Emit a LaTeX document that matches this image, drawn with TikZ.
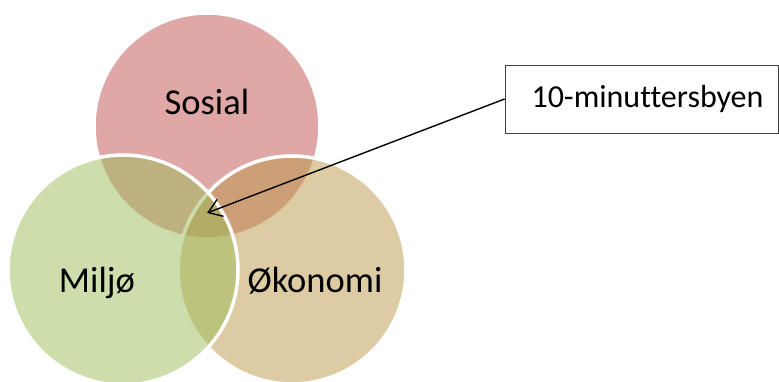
\documentclass[tikz,border=0pt]{standalone}
\usepackage{fontspec}
\setmainfont{Carlito}[Ligatures=NoCommon]
\usetikzlibrary{arrows.meta}
\definecolor{sosialc}{RGB}{192,80,77}
\definecolor{miljoc}{RGB}{155,187,89}
\definecolor{okoc}{RGB}{187,151,73}
\definecolor{boxline}{RGB}{64,64,64}
\tikzset{
  venn/.style={circle, draw=white, line width=3.5pt, fill opacity=0.5, minimum size=#1, inner sep=0pt},
  biglabel/.style={font=\fontsize{36.5}{40}\selectfont, anchor=base, inner sep=0pt},
  callout/.style={draw=boxline, line width=0.8pt, minimum width=273pt, minimum height=68pt, inner sep=0pt, font=\fontsize{32}{36}\selectfont},
}
\begin{document}
\begin{tikzpicture}[x=1pt,y=-1pt]
\useasboundingbox (0,0) rectangle (779,382);
\clip (0,0) rectangle (779,382);
\node[venn=226pt, fill=sosialc] (sos) at (207,126) {};
\node[venn=228pt, fill=okoc] (oko) at (292,270) {};
\node[venn=230pt, fill=miljoc] (mil) at (123,270) {};
\node[biglabel] (tsos) at (207,115) {Sosial};
\node[biglabel] (tmil) at (97,292) {Miljø};
\node[biglabel] (toko) at (315,292) {Økonomi};
\node[callout] (box) at (641.5,99) {\hspace*{12pt}10-minuttersbyen};
\coordinate (tip) at (207,213);
\draw[line width=1.4pt, -{Straight Barb[length=13pt,width=18pt]}] (box.west) -- (tip);
\end{tikzpicture}
\end{document}
